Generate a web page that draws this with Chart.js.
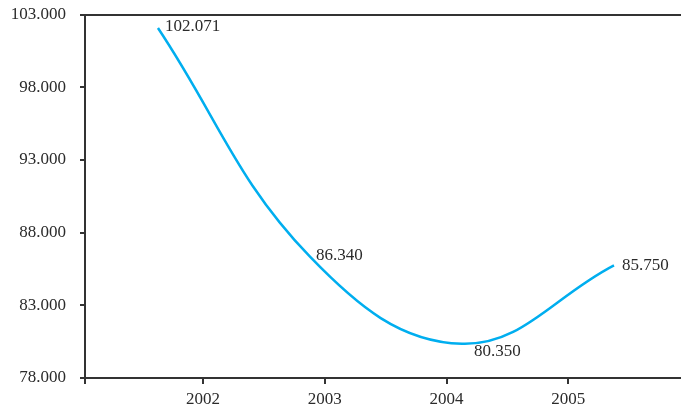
<!DOCTYPE html>
<html>
<head>
<meta charset="utf-8">
<script src="https://cdn.jsdelivr.net/npm/chart.js@4"></script>
<style>
  html, body { margin: 0; padding: 0; background: #fff; overflow: hidden; }
  #wrap { width: 690px; height: 407px; position: relative; }
</style>
</head>
<body>
<div id="wrap"><canvas id="myChart"></canvas></div>
<script>
const ctx = document.getElementById("myChart").getContext("2d");

// data
const years = [2002, 2003, 2004, 2005];
const values = [102.071, 86.34, 80.35, 85.75];
const yTicks = [78, 83, 88, 93, 98, 103];

const axisColor = "#333333";
const textColor = "#2b2b2b";
const fontFamily = "'Liberation Serif', 'DejaVu Serif', serif";

// line points sit on their own hidden axis (1..n), evenly spaced
let line_data = [];
for (let i = 0; i < values.length; i++) {
  line_data.push({ x: i + 1, y: values[i] });
}

// where each value label goes, relative to its point
const labelOffsets = [
  { dx: 7, dy: -1 },
  { dx: 6, dy: -1 },
  { dx: 12, dy: 8 },
  { dx: 8, dy: 0 },
];

const valueLabels = {
  id: "valueLabels",
  afterDatasetsDraw(chart) {
    const meta = chart.getDatasetMeta(0);
    const c = chart.ctx;
    c.save();
    c.font = "17px " + fontFamily;
    c.fillStyle = textColor;
    c.textAlign = "left";
    c.textBaseline = "middle";
    meta.data.forEach((pt, i) => {
      const o = labelOffsets[i];
      c.fillText(values[i].toFixed(3), pt.x + o.dx, pt.y + o.dy);
    });
    c.restore();
  },
};

const xMin = years[0] - 0.97;

function noPad(s) {
  s.paddingTop = 0;
  s.paddingBottom = 0;
  s.paddingLeft = 0;
  s.paddingRight = 0;
}

var myChart = new Chart(ctx, {
  type: "line",
  data: {
    datasets: [
      {
        data: line_data,
        xAxisID: "xLine",
        borderColor: "#00aeef",
        borderWidth: 2.5,
        pointRadius: 0,
        tension: 0.4,
        fill: false,
      },
    ],
  },
  options: {
    responsive: true,
    maintainAspectRatio: false,
    animation: false,
    layout: { padding: 0 },
    plugins: {
      legend: { display: false },
      tooltip: { enabled: false },
    },
    scales: {
      x: {
        type: "linear",
        position: "bottom",
        min: xMin,
        max: years[years.length - 1] + 1,
        afterFit: (s) => { s.height = 29; noPad(s); },
        afterBuildTicks: (s) => {
          s.ticks = [xMin].concat(years).map((v) => ({ value: v }));
        },
        ticks: {
          autoSkip: false,
          maxRotation: 0,
          padding: 5,
          color: textColor,
          font: { family: fontFamily, size: 17 },
          callback: (v) => (years.includes(v) ? String(v) : ""),
        },
        grid: {
          drawOnChartArea: false,
          tickLength: 6,
          color: axisColor,
          lineWidth: 2,
        },
        border: { color: axisColor, width: 2 },
      },
      xLine: {
        type: "linear",
        display: false,
        min: 0.52,
        max: values.length + 0.5,
      },
      xTop: {
        type: "linear",
        position: "top",
        afterFit: (s) => { s.height = 14.5; noPad(s); },
        ticks: { display: false },
        grid: { display: false },
        border: { display: true, color: axisColor, width: 2 },
      },
      y: {
        type: "linear",
        min: yTicks[0],
        max: yTicks[yTicks.length - 1],
        afterFit: (s) => { s.width = 85; noPad(s); },
        afterBuildTicks: (s) => {
          s.ticks = yTicks.map((v) => ({ value: v }));
        },
        ticks: {
          padding: 14,
          color: textColor,
          font: { family: fontFamily, size: 17 },
          callback: (v) => v.toFixed(3),
        },
        grid: {
          drawOnChartArea: false,
          tickLength: 5,
          color: axisColor,
          lineWidth: 2,
        },
        border: { color: axisColor, width: 2 },
      },
    },
  },
  plugins: [valueLabels],
});
</script>
</body>
</html>
